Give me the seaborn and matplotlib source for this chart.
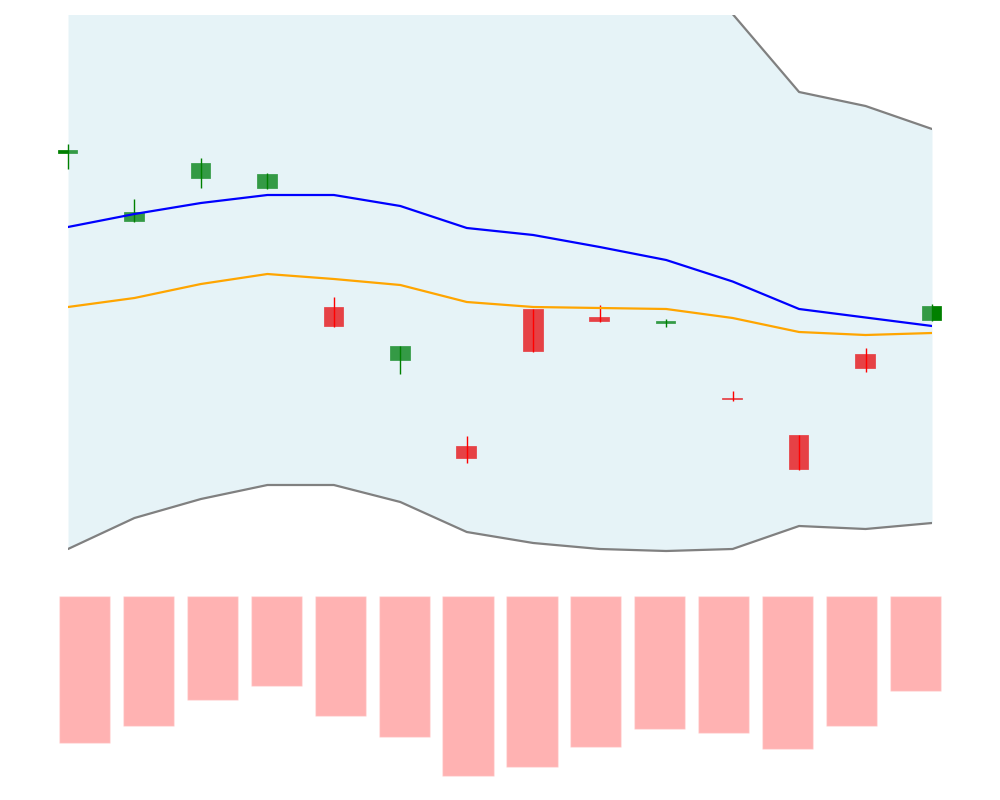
import numpy as np
import pandas as pd
import matplotlib
matplotlib.use("Agg")
import matplotlib.pyplot as plt
import seaborn as sns

sns.set_style("white")

days = list(range(14))
opens = [134.6, 127.8, 132.1, 131.1, 119.3, 113.9, 105.4, 119.1, 118.3, 117.6, 110.25, 106.5, 114.6, 117.9]
closes = [135.0, 128.8, 133.7, 132.6, 117.3, 115.4, 104.1, 114.8, 117.8, 117.9, 110.05, 103.0, 113.1, 119.4]
highs = [135.6, 130.1, 134.2, 132.7, 120.3, 115.4, 106.4, 119.1, 119.5, 118.1, 110.9, 106.5, 115.2, 119.6]
lows = [133.1, 127.8, 131.2, 131.1, 117.3, 112.6, 103.7, 114.8, 117.8, 117.3, 109.9, 103.0, 112.8, 117.9]

sma = [127.3, 128.6, 129.7, 130.5, 130.5, 129.4, 127.2, 126.5, 125.3, 124.0, 121.85, 119.1, 118.25, 117.4]
ema = [119.3, 120.2, 121.6, 122.6, 122.1, 121.5, 119.8, 119.3, 119.2, 119.1, 118.2, 116.8, 116.5, 116.7]
upper_band = [159.5, 159.0, 159.3, 159.5, 159.5, 159.0, 157.6, 157.3, 155.5, 153.1, 148.6, 140.8, 139.4, 137.1]
lower_band = [95.1, 98.2, 100.1, 101.5, 101.5, 99.8, 96.8, 95.7, 95.1, 94.9, 95.1, 97.4, 97.1, 97.7]

volumes = [1470, 1300, 1040, 900, 1200, 1410, 1800, 1710, 1510, 1330, 1370, 1530, 1300, 950]

df = pd.DataFrame({
    "day": days, "open": opens, "close": closes, "high": highs, "low": lows,
    "sma": sma, "ema": ema, "upper": upper_band, "lower": lower_band, "volume": volumes,
})

fig = plt.figure(figsize=(10, 8), dpi=100)
ax = fig.add_axes([0.068, 0.3, 0.864, 0.68125])
axv = fig.add_axes([0.0525, 0.0175, 0.895, 0.2375])

# candle bodies (below the band fill)
up = df["close"] >= df["open"]
colors = np.where(up, "green", "red")
body_w = 0.31
ax.bar(df["day"], df["close"] - df["open"], bottom=df["open"], width=body_w,
       color=colors, edgecolor=(1, 1, 1, 0.6), linewidth=0.3, zorder=1, clip_on=False)

# Bollinger band fill
ax.fill_between(df["day"], df["lower"], df["upper"], color="lightblue", alpha=0.3,
                linewidth=0, zorder=2)

# wicks
ax.vlines(df["day"], df["low"], df["high"], colors=colors, linewidth=1, zorder=3, clip_on=False)

# lines
sns.lineplot(data=df, x="day", y="upper", color="gray", linewidth=1.6, ax=ax, zorder=4)
sns.lineplot(data=df, x="day", y="lower", color="gray", linewidth=1.6, ax=ax, zorder=4)
sns.lineplot(data=df, x="day", y="sma", color="blue", linewidth=1.6, ax=ax, zorder=4)
sns.lineplot(data=df, x="day", y="ema", color="orange", linewidth=1.6, ax=ax, zorder=4)

ax.set_xlim(0, 13)
ax.set_ylim(94, 148.5)
ax.axis("off")

# volume
sns.barplot(data=df, x="day", y="volume", color="red", alpha=0.3, saturation=1,
            width=0.8, ax=axv)
axv.set_xlim(-0.5, 13.5)
axv.set_ylim(1900, 0)
axv.axis("off")

fig.savefig("out.png", dpi=100)
